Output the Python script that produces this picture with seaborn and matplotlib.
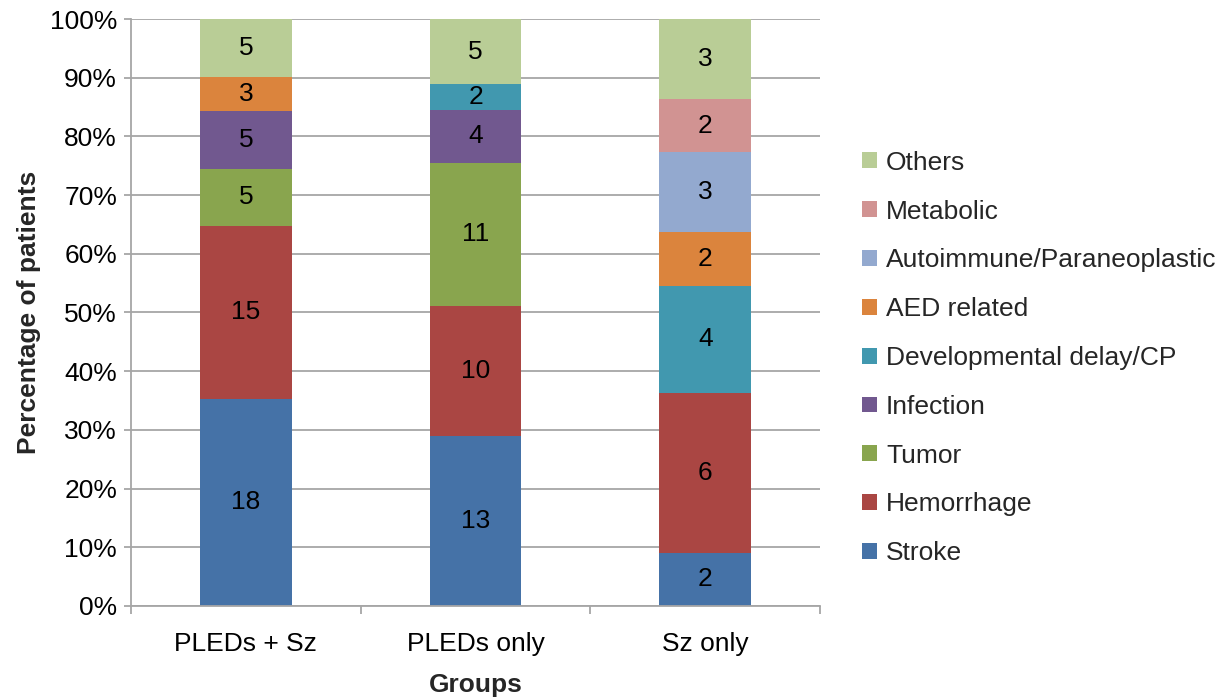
import numpy as np
import pandas as pd
import matplotlib

matplotlib.use("Agg")
import matplotlib.pyplot as plt
from matplotlib.ticker import PercentFormatter, FixedLocator
import seaborn as sns

# Groups and causes (causes listed bottom -> top of the stack)
groups = ["PLEDs + Sz", "PLEDs only", "Sz only"]
causes = [
    "Stroke",
    "Hemorrhage",
    "Tumor",
    "Infection",
    "Developmental delay/CP",
    "AED related",
    "Autoimmune/Paraneoplastic",
    "Metabolic",
    "Others",
]

# Patient counts per group
stroke = [18, 13, 2]
hemorrhage = [15, 10, 6]
tumor = [5, 11, 0]
infection = [5, 4, 0]
devel_delay = [0, 2, 4]
aed_related = [3, 0, 2]
autoimmune = [0, 0, 3]
metabolic = [0, 0, 2]
others = [5, 5, 3]

colors = [
    "#4572A7",
    "#AA4643",
    "#89A54E",
    "#71588F",
    "#4198AF",
    "#DB843D",
    "#93A9CF",
    "#D19392",
    "#B9CD96",
]

counts = [stroke, hemorrhage, tumor, infection, devel_delay,
          aed_related, autoimmune, metabolic, others]

rows = []
for cause, vals in zip(causes, counts):
    for g, v in zip(groups, vals):
        rows.append({"Groups": g, "Cause": cause, "Count": v})
df = pd.DataFrame(rows)
df["Groups"] = pd.Categorical(df["Groups"], categories=groups, ordered=True)

sns.set_theme(style="white")
plt.rcParams["font.family"] = ["Liberation Sans", "DejaVu Sans"]
fs = 19

fig = plt.figure(figsize=(12.24, 6.97), dpi=100)
ax = fig.add_axes([0.107, 0.1306, 0.563, 0.8421])

# histplot stacks the first hue level on top -> reverse order
hue_order = causes[::-1]
palette = dict(zip(causes, colors))
sns.histplot(
    data=df,
    x="Groups",
    hue="Cause",
    weights="Count",
    multiple="fill",
    discrete=True,
    shrink=0.4,
    hue_order=hue_order,
    palette=palette,
    alpha=1,
    linewidth=0,
    ax=ax,
)

# count labels in the middle of each segment
wide = df.pivot_table(index="Groups", columns="Cause", values="Count",
                      aggfunc="sum", observed=False)[causes]
for i, g in enumerate(groups):
    vals = wide.loc[g].values.astype(float)
    total = vals.sum()
    bottom = 0.0
    for v in vals:
        if v > 0:
            ax.text(i, (bottom + v / 2) / total, f"{int(v)}", ha="center",
                    va="center", fontsize=fs, color="black")
        bottom += v

ax.set_xlim(-0.5, 2.5)
ax.set_ylim(0, 1)
ax.set_yticks(np.linspace(0, 1, 11))
ax.yaxis.set_major_formatter(PercentFormatter(1.0, decimals=0))
ax.set_xticks(range(len(groups)))
ax.set_xticklabels(groups)
ax.xaxis.set_minor_locator(FixedLocator([-0.5, 0.5, 1.5, 2.5]))

ax.grid(axis="y", color="#a6a6a6", linewidth=1.3)
ax.set_axisbelow(True)
for side in ["top", "right"]:
    ax.spines[side].set_visible(False)
for side in ["left", "bottom"]:
    ax.spines[side].set_color("#a6a6a6")
    ax.spines[side].set_linewidth(1.3)

ax.tick_params(axis="y", which="major", left=True, length=5, width=1.3,
               color="#a6a6a6", labelsize=fs, labelcolor="black", pad=5)
ax.tick_params(axis="x", which="major", bottom=False, length=0,
               labelsize=fs, labelcolor="black", pad=19)
ax.tick_params(axis="x", which="minor", bottom=True, length=6, width=1.3,
               color="#a6a6a6")

ax.set_ylabel("Percentage of patients", fontsize=fs, fontweight="bold",
              labelpad=6)
ax.set_xlabel("Groups", fontsize=fs, fontweight="bold", labelpad=12)

sns.move_legend(
    ax,
    "center left",
    bbox_to_anchor=(1.042, 0.4225),
    frameon=False,
    title=None,
    fontsize=fs,
    handlelength=0.55,
    handleheight=0.55,
    handletextpad=0.35,
    labelspacing=0.94,
    borderpad=0,
)

fig.savefig("out.png", dpi=100)
